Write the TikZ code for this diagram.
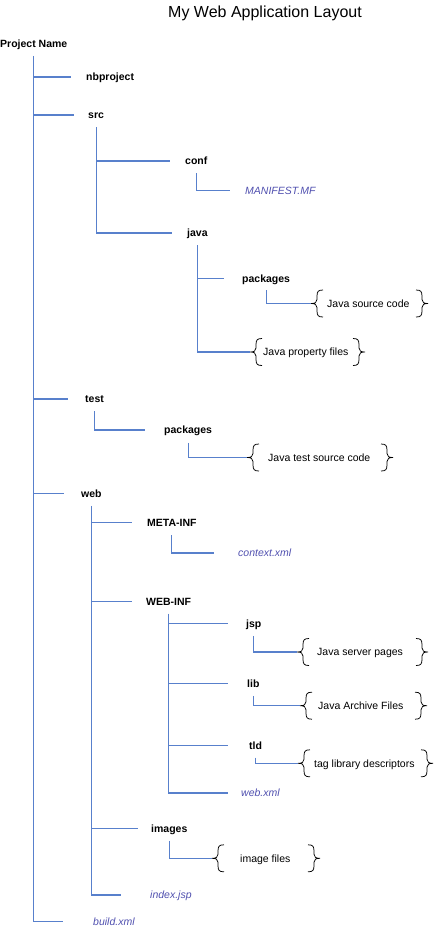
\documentclass[tikz,border=0pt]{standalone}
\usepackage{fontspec}
\setmainfont{Liberation Sans}
\definecolor{lnblue}{RGB}{88,128,204}
\definecolor{fileblue}{RGB}{80,80,175}
\begin{document}
\begin{tikzpicture}[x=1pt,y=-1pt,
  ln/.style={draw=lnblue,line width=1.1pt},
  brc/.style={draw=black,line width=0.75pt},
  lbl/.style={anchor=west,inner sep=0pt,text height=7.5pt,text depth=0pt,font=\fontsize{10.5}{12}\selectfont},
  dir/.style={lbl,font=\fontsize{10.5}{12}\selectfont\bfseries},
  fil/.style={lbl,font=\fontsize{10.5}{12}\selectfont\itshape,text=fileblue},
  dsc/.style={lbl},
  obr/.pic={\draw[brc] (12,-13.5) .. controls (7,-13.5) and (6,-12) .. (6,-7) -- (6,-4) .. controls (6,-1) and (4,0) .. (0,0) .. controls (4,0) and (6,1) .. (6,4) -- (6,7) .. controls (6,12) and (7,13.5) .. (12,13.5);},
  cbr/.pic={\draw[brc] (-12,-13.5) .. controls (-7,-13.5) and (-6,-12) .. (-6,-7) -- (-6,-4) .. controls (-6,-1) and (-4,0) .. (0,0) .. controls (-4,0) and (-6,1) .. (-6,4) -- (-6,7) .. controls (-6,12) and (-7,13.5) .. (-12,13.5);}
]
\useasboundingbox (0,0) rectangle (434,929);

\node[anchor=base,inner sep=0pt,font=\fontsize{16}{19}\selectfont] (title) at (265,17.5) {My Web Application Layout};

\node[dir] (pn) at (0,43.5) {Project Name};
\node[dir] (nb) at (86,77) {nbproject};
\node[dir] (src) at (88,115) {src};
\node[dir] (conf) at (185,161) {conf};
\node[fil] (manifest) at (245,190.5) {MANIFEST.MF};
\node[dir] (java) at (187,233) {java};
\node[dir] (pkg1) at (242,278.5) {packages};
\node[dsc] (jsc) at (327,303.5) {Java source code};
\node[dsc] (jpf) at (263,352) {Java property files};
\node[dir] (test) at (85,399) {test};
\node[dir] (pkg2) at (164,430) {packages};
\node[dsc] (jtsc) at (268,457.5) {Java test source code};
\node[dir] (web) at (81,493.3) {web};
\node[dir] (meta) at (147,522.3) {META-INF};
\node[fil] (ctx) at (238,553) {context.xml};
\node[dir] (webinf) at (146,601.7) {WEB-INF};
\node[dir] (jsp) at (246,623.3) {jsp};
\node[dsc] (jsvp) at (317,652) {Java server pages};
\node[dir] (lib) at (247,683.3) {lib};
\node[dsc] (jaf) at (318,705.7) {Java Archive Files};
\node[dir] (tld) at (249,745.7) {tld};
\node[dsc] (tldd) at (314,763.3) {tag library descriptors};
\node[fil] (webxml) at (241,793) {web.xml};
\node[dir] (images) at (151,828.3) {images};
\node[dsc] (imgf) at (240,858.3) {image files};
\node[fil] (index) at (150,895) {index.jsp};
\node[fil] (build) at (93,921.7) {build.xml};

% brace tips
\coordinate (b1l) at (311,303.5); \coordinate (b1r) at (428,303.5);
\coordinate (b2l) at (250,352);   \coordinate (b2r) at (365,352);
\coordinate (b3l) at (247,457.5); \coordinate (b3r) at (393,457.5);
\coordinate (b4l) at (297,652);   \coordinate (b4r) at (428,652);
\coordinate (b5l) at (300,705.7); \coordinate (b5r) at (427,705.7);
\coordinate (b6l) at (298,763.3); \coordinate (b6r) at (433,763.3);
\coordinate (b7l) at (212,858.3); \coordinate (b7r) at (320,858.3);
\foreach \i in {1,...,7} {\pic at (b\i l) {obr}; \pic at (b\i r) {cbr};}

% trunk
\draw[ln] ([yshift=-8.5pt]pn.south) |- ([xshift=-30pt]build.west);
\draw[ln] (pn.south |- nb.west) -- ([xshift=-15pt]nb.west);
\draw[ln] (pn.south |- src.west) -- ([xshift=-14pt]src.west);
\draw[ln] (pn.south |- test.west) -- ([xshift=-17pt]test.west);
\draw[ln] (pn.south |- web.west) -- ([xshift=-17pt]web.west);

% src
\draw[ln] ([yshift=-8.5pt]src.south) |- ([xshift=-15pt]java.west);
\draw[ln] (src.south |- conf.west) -- ([xshift=-15pt]conf.west);
\draw[ln] ([yshift=-8.5pt]conf.south) |- ([xshift=-15pt]manifest.west);
\draw[ln] ([yshift=-8.5pt]java.south) |- (b2l);
\draw[ln] (java.south |- pkg1.west) -- ([xshift=-18pt]pkg1.west);
\draw[ln] ([yshift=-8pt]pkg1.south) |- (b1l);

% test
\draw[ln] ([yshift=-8.5pt]test.south) |- ([xshift=-19pt]pkg2.west);
\draw[ln] ([yshift=-9pt]pkg2.south) |- (b3l);

% web
\draw[ln] ([yshift=-8.5pt]web.south) |- ([xshift=-29pt]index.west);
\draw[ln] (web.south |- meta.west) -- ([xshift=-15pt]meta.west);
\draw[ln] (web.south |- webinf.west) -- ([xshift=-14pt]webinf.west);
\draw[ln] (web.south |- images.west) -- ([xshift=-13pt]images.west);
\draw[ln] ([yshift=-9pt]meta.south) |- ([xshift=-24pt]ctx.west);
\draw[ln] ([yshift=-8pt]webinf.south) |- ([xshift=-13pt]webxml.west);
\draw[ln] (webinf.south |- jsp.west) -- ([xshift=-18pt]jsp.west);
\draw[ln] (webinf.south |- lib.west) -- ([xshift=-19pt]lib.west);
\draw[ln] (webinf.south |- tld.west) -- ([xshift=-21pt]tld.west);
\draw[ln] ([yshift=-8.5pt]jsp.south) |- (b4l);
\draw[ln] ([yshift=-8.5pt]lib.south) |- (b5l);
\draw[ln] ([yshift=-8pt]tld.south) |- (b6l);
\draw[ln] ([yshift=-8.5pt]images.south) |- (b7l);
\end{tikzpicture}
\end{document}
